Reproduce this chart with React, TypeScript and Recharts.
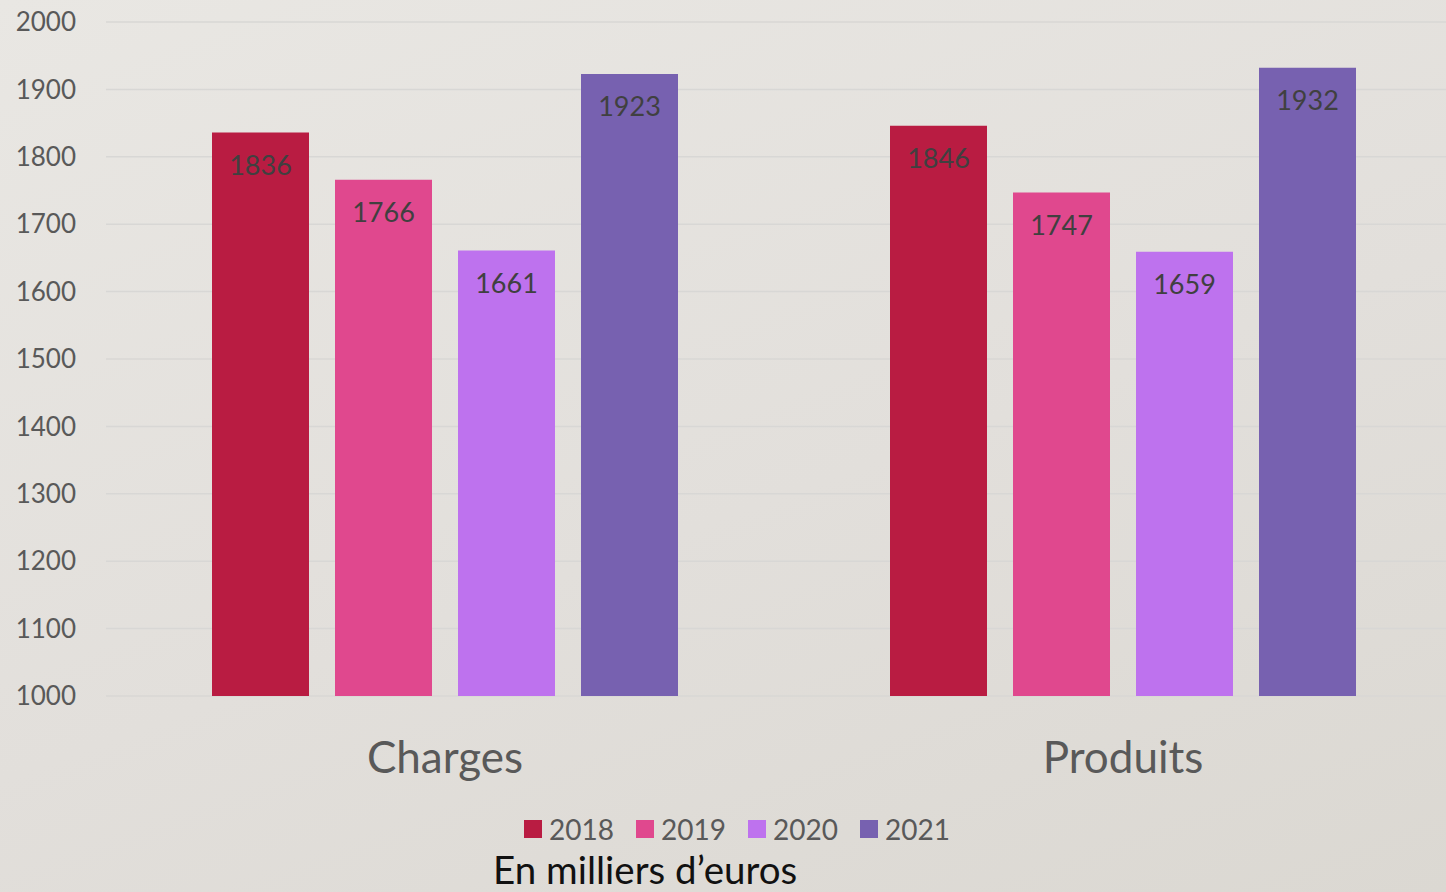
import React from 'react';
import { BarChart, Bar, XAxis, YAxis, CartesianGrid, Legend, LabelList } from 'recharts';

const categories = ['Charges', 'Produits'];
const years = ['2018', '2019', '2020', '2021'];
const values2018 = [1836, 1846];
const values2019 = [1766, 1747];
const values2020 = [1661, 1659];
const values2021 = [1923, 1932];
const yTicks = [1000, 1100, 1200, 1300, 1400, 1500, 1600, 1700, 1800, 1900, 2000];

const colors = ['#b91c42', '#e0488e', '#be72ee', '#7761b0'];
const FONT = 'Lato, "Open Sans", sans-serif';

const data = categories.map((name, i) => ({
  name,
  '2018': values2018[i],
  '2019': values2019[i],
  '2020': values2020[i],
  '2021': values2021[i],
}));

const LegendContent = () => (
  <div style={{ width: 1446, height: 84, fontFamily: FONT }}>
    <div style={{ height: 38, display: 'flex', alignItems: 'center', paddingLeft: 524, paddingTop: 2 }}>
      {years.map((y, i) => (
        <div key={y} style={{ display: 'flex', alignItems: 'center', marginRight: 22 }}>
          <span style={{ width: 18, height: 18, background: colors[i], display: 'inline-block', marginRight: 7 }} />
          <span style={{ fontSize: 28, color: '#595959', lineHeight: '36px' }}>{y}</span>
        </div>
      ))}
    </div>
    <div style={{ height: 44, paddingLeft: 493, fontSize: 38.5, color: '#111', lineHeight: '42px' }}>
      En milliers d’euros
    </div>
  </div>
);

export default function App() {
  return (
    <div
      style={{
        position: 'fixed',
        left: 0,
        top: 0,
        width: 1446,
        height: 892,
        overflow: 'hidden',
        background: 'linear-gradient(160deg, #e9e7e3 0%, #e2dfdb 55%, #dbd8d2 100%)',
      }}
    >
      <BarChart
        width={1462}
        height={892}
        data={data}
        margin={{ top: 22, right: 0, bottom: 0, left: 0 }}
        barGap={26}
        barSize={97}
      >
        <CartesianGrid vertical={false} stroke="#d8d7d5" strokeWidth={1.5} />
        <XAxis
          dataKey="name"
          axisLine={false}
          tickLine={false}
          height={112}
          tickMargin={40}
          tick={{ fontSize: 44, fill: '#595959', fontFamily: FONT }}
        />
        <YAxis
          domain={[1000, 2000]}
          ticks={yTicks}
          axisLine={false}
          tickLine={false}
          width={106}
          tickMargin={24}
          tick={{ fontSize: 26, fill: '#595959', fontFamily: FONT }}
        />
        <Legend
          verticalAlign="bottom"
          content={<LegendContent />}
          wrapperStyle={{ left: 0, width: 1446, height: 84 }}
        />
        {years.map((y, i) => (
          <Bar key={y} dataKey={y} fill={colors[i]} isAnimationActive={false}>
            <LabelList
              dataKey={y}
              position="insideTop"
              offset={23}
              style={{ fontSize: 27, fill: '#404040', fontFamily: FONT }}
            />
          </Bar>
        ))}
      </BarChart>
    </div>
  );
}
